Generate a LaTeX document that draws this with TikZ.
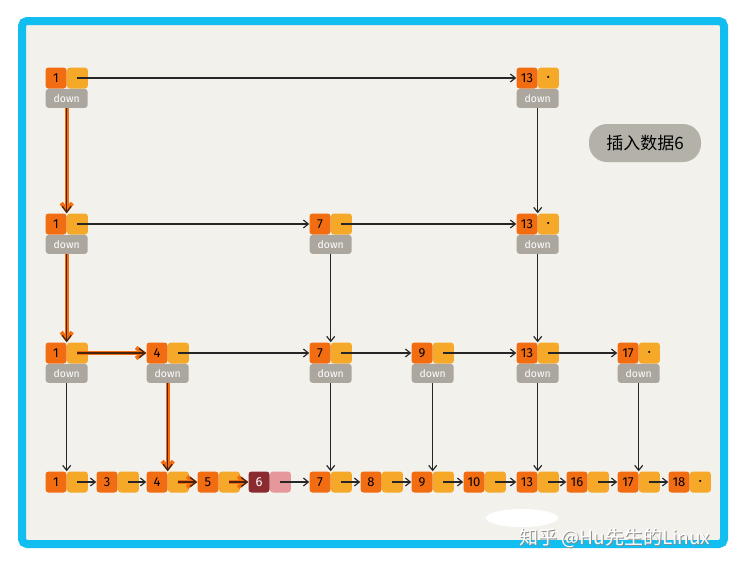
\documentclass[tikz,border=0pt]{standalone}
\usepackage{fontspec}
\setmainfont{Fira Sans}
\newfontfamily\cjkfont{Noto Sans CJK SC}
\usetikzlibrary{arrows.meta,positioning}

\definecolor{keyorange}{HTML}{F26C12}
\definecolor{ptryellow}{HTML}{F6A928}
\definecolor{downgray}{HTML}{ABA79F}
\definecolor{paper}{HTML}{F3F1EC}
\definecolor{framecyan}{HTML}{12BEF0}
\definecolor{newred}{HTML}{8C2B2F}
\definecolor{newpink}{HTML}{E5979B}
\definecolor{tracebrown}{HTML}{4A230E}
\definecolor{taggray}{HTML}{B4B1A9}

\tikzset{
  keybox/.style={rectangle, rounded corners=3pt, fill=keyorange, minimum width=21pt,
    minimum height=21pt, inner sep=0pt, font=\fontsize{13}{13}\selectfont},
  ptrbox/.style={keybox, fill=ptryellow},
  downbox/.style={rectangle, rounded corners=3pt, fill=downgray, minimum width=42pt,
    minimum height=19pt, inner sep=0pt, text=white, font=\fontsize{10.5}{10.5}\selectfont},
  link/.style={-{Straight Barb[length=5pt,width=8pt]}, line width=1.2pt, black!85},
  trace/.style={-{Straight Barb[length=6pt,width=9pt]}, line width=1.3pt, tracebrown,
    preaction={draw=keyorange, line width=4pt, -{Straight Barb[length=7pt,width=11pt]}}},
}

% key box with its next pointer on the right
\newcommand{\skipnode}[4]{%
  \node[keybox] (#1) at (#2) {#3};
  \node[ptrbox, right=0pt of #1] (#1p) {#4};
}
% down pointer under a node
\newcommand{\downnode}[1]{\node[downbox, anchor=north] (#1d) at (#1.south east) {down};}
\newcommand{\nul}{{\fontsize{9}{9}\selectfont\textbullet}}

\begin{document}
\begin{tikzpicture}[x=1pt,y=-1pt]
  \useasboundingbox (0,0) rectangle (748,568);
  % frame
  \draw[draw=framecyan, fill=paper, line width=8pt, rounded corners=5pt] (22,21) rectangle (724,544);

  % level 3
  \skipnode{top1}{56,78}{1}{}
  \skipnode{top13}{527,78}{13}{\nul}
  \downnode{top1} \downnode{top13}

  % level 2
  \skipnode{up1}{56,224}{1}{}
  \skipnode{up7}{320,224}{7}{}
  \skipnode{up13}{527,224}{13}{\nul}
  \downnode{up1} \downnode{up7} \downnode{up13}

  % level 1
  \skipnode{mid1}{56,353}{1}{}
  \skipnode{mid4}{157,353}{4}{}
  \skipnode{mid7}{320,353}{7}{}
  \skipnode{mid9}{422,353}{9}{}
  \skipnode{mid13}{527,353}{13}{}
  \skipnode{mid17}{628,353}{17}{\nul}
  \foreach \k in {1,4,7,9,13,17} {\downnode{mid\k}}

  % original list
  \skipnode{bot1}{56,482}{1}{}
  \skipnode{bot3}{107,482}{3}{}
  \skipnode{bot4}{157,482}{4}{}
  \skipnode{bot5}{208,482}{5}{}
  \node[keybox, fill=newred, text=white] (bot6) at (259,482) {6};
  \node[ptrbox, fill=newpink, right=0pt of bot6] (bot6p) {};
  \skipnode{bot7}{320,482}{7}{}
  \skipnode{bot8}{371,482}{8}{}
  \skipnode{bot9}{422,482}{9}{}
  \skipnode{bot10}{474,482}{10}{}
  \skipnode{bot13}{527,482}{13}{}
  \skipnode{bot16}{577,482}{16}{}
  \skipnode{bot17}{628,482}{17}{}
  \skipnode{bot18}{679,482}{18}{\nul}

  % next links
  \draw[link] (top1p.center) -- (top13.west);
  \draw[link] (up1p.center) -- (up7.west);
  \draw[link] (up7p.center) -- (up13.west);
  \draw[link] (mid4p.center) -- (mid7.west);
  \draw[link] (mid7p.center) -- (mid9.west);
  \draw[link] (mid9p.center) -- (mid13.west);
  \draw[link] (mid13p.center) -- (mid17.west);
  \draw[link] (bot1p.center) -- (bot3.west);
  \draw[link] (bot3p.center) -- (bot4.west);
  \draw[link] (bot6p.center) -- (bot7.west);
  \foreach \a/\b in {7/8,8/9,9/10,10/13,13/16,16/17,17/18}
    \draw[link] (bot\a p.center) -- (bot\b.west);

  % down links
  \draw[link] (top13d) -- (up13.north east);
  \draw[link] (up7d) -- (mid7.north east);
  \draw[link] (up13d) -- (mid13.north east);
  \foreach \k in {1,7,9,13,17}
    \draw[link] (mid\k d) -- (bot\k.north east);

  % search path of 6
  \draw[trace] (top1d) -- (up1.north east);
  \draw[trace] (up1d) -- (mid1.north east);
  \draw[trace] (mid1p.center) -- (mid4.west);
  \draw[trace] (mid4d) -- (bot4.north east);
  \draw[trace] (bot4p.center) -- (bot5.west);
  \draw[trace] (bot5p.center) -- (bot6.west);

  % title
  \node[fill=taggray, rounded corners=18pt, minimum width=112pt, minimum height=38pt,
    font=\cjkfont\fontsize{17}{17}\selectfont] (tag) at (645,143) {插入数据6};

  % watermark
  \fill[white] (522,518) ellipse (36pt and 9pt);
  \node[text=black!45, font=\cjkfont\fontsize{19}{19}\selectfont] (markshade) at (615.8,538.8) {知乎 @Hu先生的Linux};
  \node[text=white, font=\cjkfont\fontsize{19}{19}\selectfont] (mark) at (615,538) {知乎 @Hu先生的Linux};
\end{tikzpicture}
\end{document}
